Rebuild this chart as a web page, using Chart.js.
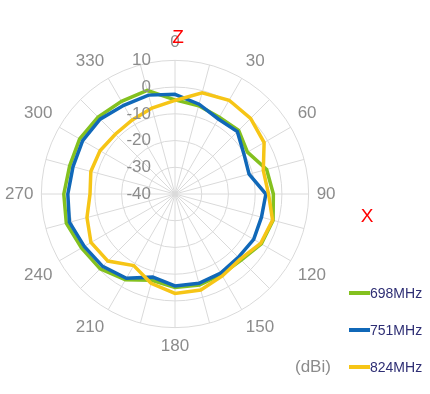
<!DOCTYPE html>
<html>
<head>
<meta charset="utf-8">
<script src="https://cdn.jsdelivr.net/npm/chart.js@4/dist/chart.umd.min.js"></script>
<style>
  html, body { margin: 0; padding: 0; background: #ffffff; }
  #wrap { position: relative; width: 430px; height: 394px; }
  canvas { display: block; }
</style>
</head>
<body>
<div id="wrap"><canvas id="c" width="430" height="394"></canvas></div>
<script>
// ---- data ----
const angles = [0, 15, 30, 45, 60, 75, 90, 105, 120, 135, 150, 165,
                180, 195, 210, 225, 240, 255, 270, 285, 300, 315, 330, 345];
const angleLabels = angles.map(a => (a % 30 === 0 ? String(a) : ''));
const radialTicks = [10, 0, -10, -20, -30, -40];
const seriesNames = ['698MHz', '751MHz', '824MHz'];
const gain698 = [-4.8, -5.8, -6.8, -6.3, -8.7, -4.5, -3.2, -2.0, -2.7, -5.0, -5.2, -4.7,
                 -5.0, -6.6, -2.9, -0.4, 0.4, 2.1, 1.6, 0.8, 1.2, 0.7, 0.0, 0.1];
const gain751 = [-2.7, -5.2, -7.6, -7.0, -10.2, -11.3, -6.0, -6.5, -6.0, -6.5, -5.8, -5.4,
                 -5.6, -7.8, -3.6, -1.7, -0.8, 0.9, 0.1, -0.5, -0.1, -0.4, -1.7, -1.7];
const gain824 = [-5.0, -0.8, 0.5, 0.0, -1.5, -5.8, -5.0, -2.2, -3.0, -5.5, -4.6, -2.8,
                 -2.8, -5.4, -9.1, -4.5, -3.7, -5.9, -8.2, -7.4, -7.6, -8.4, -8.0, -6.7];
const unitLabel = '(dBi)';
const axisZ = 'Z';
const axisX = 'X';

const colors = ['#84c11f', '#1068b8', '#f6c516'];

const tickPlugin = {
  id: 'tickLabels',
  afterDatasetsDraw(chart) {
    const s = chart.scales.r;
    const ctx = chart.ctx;
    ctx.save();
    ctx.font = '17px "Liberation Sans", Arial, sans-serif';
    ctx.fillStyle = '#8c8c8c';
    ctx.textAlign = 'right';
    ctx.textBaseline = 'middle';
    radialTicks.forEach(v => {
      const d = s.getDistanceFromCenterForValue(v);
      ctx.fillText(String(v), s.xCenter - 24, s.yCenter - d);
    });
    ctx.restore();
  }
};

const legendPlugin = {
  id: 'customLegend',
  afterDraw(chart) {
    const ctx = chart.ctx;
    ctx.save();
    const ys = [293, 330, 367];
    chart.data.datasets.forEach((ds, i) => {
      ctx.strokeStyle = ds.borderColor;
      ctx.lineWidth = 4;
      ctx.beginPath();
      ctx.moveTo(349, ys[i]);
      ctx.lineTo(370, ys[i]);
      ctx.stroke();
      ctx.font = '14px "Liberation Sans", Arial, sans-serif';
      ctx.fillStyle = '#2e2e74';
      ctx.textAlign = 'left';
      ctx.textBaseline = 'middle';
      ctx.fillText(ds.label, 370, ys[i] + 1);
    });
    ctx.font = '17px "Liberation Sans", Arial, sans-serif';
    ctx.fillStyle = '#8c8c8c';
    ctx.textAlign = 'left';
    ctx.textBaseline = 'middle';
    ctx.fillText(unitLabel, 295, 367);
    ctx.font = '19px "Liberation Sans", Arial, sans-serif';
    ctx.fillStyle = '#ff0000';
    ctx.textAlign = 'center';
    ctx.fillText(axisZ, 178, 38);
    ctx.fillText(axisX, 367, 217);
    ctx.restore();
  }
};

new Chart(document.getElementById('c'), {
  type: 'radar',
  data: {
    labels: angleLabels,
    datasets: [
      { label: seriesNames[0], data: gain698, borderColor: colors[0], order: 3 },
      { label: seriesNames[1], data: gain751, borderColor: colors[1], order: 2 },
      { label: seriesNames[2], data: gain824, borderColor: colors[2], order: 1 }
    ]
  },
  options: {
    responsive: false,
    animation: false,
    devicePixelRatio: 1,
    layout: { padding: { left: 1, right: 89, top: 24, bottom: 30 } },
    elements: {
      line: { borderWidth: 3.5, fill: false, tension: 0, borderJoinStyle: 'miter' },
      point: { radius: 0, hoverRadius: 0 }
    },
    plugins: { legend: { display: false }, tooltip: { enabled: false } },
    scales: {
      r: {
        min: -40,
        max: 10,
        ticks: { display: false, stepSize: 10 },
        grid: { circular: true, color: '#dadada', lineWidth: 1 },
        angleLines: { color: '#dadada', lineWidth: 1 },
        pointLabels: {
          padding: 8,
          color: '#8c8c8c',
          font: { family: '"Liberation Sans", Arial, sans-serif', size: 17 }
        }
      }
    }
  },
  plugins: [tickPlugin, legendPlugin]
});
</script>
</body>
</html>
